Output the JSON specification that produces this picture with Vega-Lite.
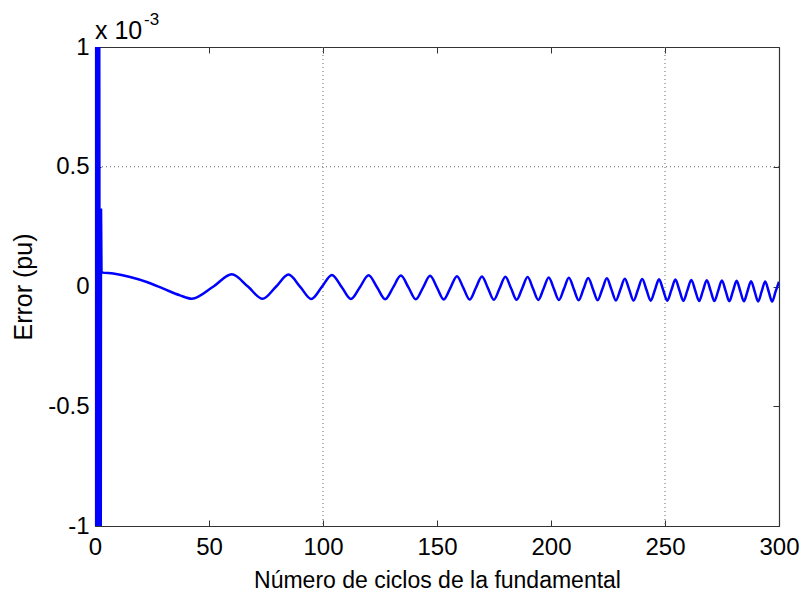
{
  "$schema": "https://vega.github.io/schema/vega-lite/v6.json",
  "width": 684,
  "height": 479,
  "autosize": {"type": "none"},
  "padding": {"left": 95, "top": 47, "right": 25, "bottom": 72},
  "background": "white",
  "config": {
    "view": {"stroke": null},
    "font": "Liberation Sans",
    "axis": {
      "domainColor": "#333333",
      "domainWidth": 1.2,
      "tickColor": "#333333",
      "tickSize": -6,
      "tickWidth": 1,
      "labelFont": "Liberation Sans",
      "labelFontSize": 24,
      "labelColor": "#000000",
      "labelFlush": false,
      "labelOverlap": false,
      "labelBound": false,
      "titleFont": "Liberation Sans",
      "titleFontWeight": "normal",
      "titleColor": "#000000",
      "grid": false
    }
  },
  "datasets": {
    "err": [
      {"x": 0.4, "y": -1.5}, {"x": 0.6, "y": 1.5}, {"x": 0.9, "y": -1.5}, {"x": 1.2, "y": 1.5}, {"x": 1.5, "y": -1.5},
      {"x": 1.8, "y": 1.5}, {"x": 2.1, "y": -1.5},
      {"x": 2.5, "y": -1.2}, {"x": 2.65, "y": 0.32}, {"x": 2.85, "y": 0.059}, {"x": 8, "y": 0.054}, {"x": 15.4, "y": 0.040}, {"x": 22.7, "y": 0.019},
      {"x": 30, "y": -0.009}, {"x": 37.3, "y": -0.037}, {"x": 42.43, "y": -0.051}, {"x": 51.96, "y": 0.0},
      {"x": 60, "y": 0.051}, {"x": 67.08, "y": -0.0003}, {"x": 73.48, "y": -0.0515}, {"x": 79.37, "y": -0.0009},
      {"x": 84.85, "y": 0.0497}, {"x": 90, "y": -0.0012}, {"x": 94.87, "y": -0.052}, {"x": 99.5, "y": -0.0018},
      {"x": 103.92, "y": 0.0484}, {"x": 108.17, "y": -0.0021}, {"x": 112.25, "y": -0.0525}, {"x": 116.19, "y": -0.0027},
      {"x": 120, "y": 0.0471}, {"x": 123.69, "y": -0.003}, {"x": 127.28, "y": -0.053}, {"x": 130.77, "y": -0.0036},
      {"x": 134.16, "y": 0.0458}, {"x": 137.48, "y": -0.0039}, {"x": 140.71, "y": -0.0535}, {"x": 143.87, "y": -0.0045},
      {"x": 146.97, "y": 0.0445}, {"x": 150, "y": -0.0048}, {"x": 152.97, "y": -0.054}, {"x": 155.88, "y": -0.0054},
      {"x": 158.75, "y": 0.0432}, {"x": 161.55, "y": -0.0057}, {"x": 164.32, "y": -0.0545}, {"x": 167.03, "y": -0.0063},
      {"x": 169.71, "y": 0.0419}, {"x": 172.34, "y": -0.0066}, {"x": 174.93, "y": -0.055}, {"x": 177.48, "y": -0.0072},
      {"x": 180, "y": 0.0406}, {"x": 182.48, "y": -0.0075}, {"x": 184.93, "y": -0.0555}, {"x": 187.35, "y": -0.0081},
      {"x": 189.74, "y": 0.0393}, {"x": 192.09, "y": -0.0084}, {"x": 194.42, "y": -0.056}, {"x": 196.72, "y": -0.009},
      {"x": 199.0, "y": 0.038}, {"x": 201.25, "y": -0.0093}, {"x": 203.47, "y": -0.0565}, {"x": 205.67, "y": -0.0099},
      {"x": 207.85, "y": 0.0367}, {"x": 210, "y": -0.0102}, {"x": 212.13, "y": -0.057}, {"x": 214.24, "y": -0.0108},
      {"x": 216.33, "y": 0.0354}, {"x": 218.41, "y": -0.0111}, {"x": 220.45, "y": -0.0575}, {"x": 222.49, "y": -0.0117},
      {"x": 224.5, "y": 0.0341}, {"x": 226.5, "y": -0.012}, {"x": 228.47, "y": -0.058}, {"x": 230.43, "y": -0.0126},
      {"x": 232.38, "y": 0.0328}, {"x": 234.31, "y": -0.0129}, {"x": 236.22, "y": -0.0585}, {"x": 238.12, "y": -0.0135},
      {"x": 240, "y": 0.0315}, {"x": 241.87, "y": -0.0138}, {"x": 243.72, "y": -0.059}, {"x": 245.56, "y": -0.0144},
      {"x": 247.39, "y": 0.0302}, {"x": 249.2, "y": -0.0147}, {"x": 251.0, "y": -0.0595}, {"x": 252.79, "y": -0.0153},
      {"x": 254.56, "y": 0.0289}, {"x": 256.32, "y": -0.0156}, {"x": 258.07, "y": -0.06}, {"x": 259.81, "y": -0.0162},
      {"x": 261.53, "y": 0.0276}, {"x": 263.25, "y": -0.0165}, {"x": 264.95, "y": -0.0605}, {"x": 266.65, "y": -0.0171},
      {"x": 268.33, "y": 0.0263}, {"x": 270, "y": -0.0174}, {"x": 271.66, "y": -0.061}, {"x": 273.31, "y": -0.018},
      {"x": 274.95, "y": 0.025}, {"x": 276.59, "y": -0.0183}, {"x": 278.21, "y": -0.0615}, {"x": 279.82, "y": -0.0189},
      {"x": 281.42, "y": 0.0237}, {"x": 283.02, "y": -0.0192}, {"x": 284.6, "y": -0.062}, {"x": 286.18, "y": -0.0198},
      {"x": 287.75, "y": 0.0224}, {"x": 289.31, "y": -0.0201}, {"x": 290.86, "y": -0.0625}, {"x": 292.4, "y": -0.0207},
      {"x": 293.94, "y": 0.0211}, {"x": 295.47, "y": -0.021}, {"x": 296.98, "y": -0.063}, {"x": 298.49, "y": -0.0216},
      {"x": 300, "y": 0.0198}
    ]
  },
  "layer": [
    {
      "data": {"values": [{"g": 100}, {"g": 250}]},
      "mark": {"type": "rule", "color": "#666666", "strokeDash": [1, 3], "strokeWidth": 1},
      "encoding": {"x": {"field": "g", "type": "quantitative", "scale": {"domain": [0, 300], "nice": false}, "axis": null}}
    },
    {
      "data": {"values": [{"v": 0.5}]},
      "mark": {"type": "rule", "color": "#666666", "strokeDash": [1, 3], "strokeWidth": 1},
      "encoding": {"y": {"field": "v", "type": "quantitative", "scale": {"domain": [-1, 1], "nice": false}, "axis": null}}
    },
    {
      "data": {"name": "err"},
      "mark": {"type": "line", "color": "#0000ff", "strokeWidth": 2.5, "interpolate": "monotone", "clip": true},
      "encoding": {
        "x": {
          "field": "x", "type": "quantitative",
          "scale": {"domain": [0, 300], "nice": false},
          "axis": {"orient": "bottom", "values": [0, 50, 100, 150, 200, 250, 300], "title": "Número de ciclos de la fundamental", "titleFontSize": 23, "labelPadding": 15, "titlePadding": 10}
        },
        "y": {
          "field": "y", "type": "quantitative",
          "scale": {"domain": [-1, 1], "nice": false},
          "axis": {"orient": "left", "values": [-1, -0.5, 0, 0.5, 1], "labelExpr": "'' + datum.value", "title": "Error (pu)", "titleFontSize": 25, "labelPadding": 12, "titlePadding": 11}
        }
      }
    },
    {
      "data": {"name": "err"},
      "mark": {"type": "line", "opacity": 0},
      "encoding": {
        "x": {"field": "x", "type": "quantitative", "axis": {"orient": "top", "values": [0, 50, 100, 150, 200, 250, 300], "labels": false, "title": null}},
        "y": {"field": "y", "type": "quantitative", "axis": {"orient": "right", "values": [-1, -0.5, 0, 0.5, 1], "labels": false, "title": null}}
      }
    },
    {
      "data": {"values": [{"t": "x 10"}]},
      "mark": {"type": "text", "align": "left", "baseline": "alphabetic", "fontSize": 25, "dx": 0, "dy": -8, "color": "#000000"},
      "encoding": {"text": {"field": "t"}, "x": {"datum": 0, "type": "quantitative", "axis": null}, "y": {"datum": 1, "type": "quantitative", "axis": null}}
    },
    {
      "data": {"values": [{"t": "-3"}]},
      "mark": {"type": "text", "align": "left", "baseline": "alphabetic", "fontSize": 17, "dx": 49, "dy": -22, "color": "#000000"},
      "encoding": {"text": {"field": "t"}, "x": {"datum": 0, "type": "quantitative", "axis": null}, "y": {"datum": 1, "type": "quantitative", "axis": null}}
    }
  ],
  "resolve": {"axis": {"x": "independent", "y": "independent"}}
}
